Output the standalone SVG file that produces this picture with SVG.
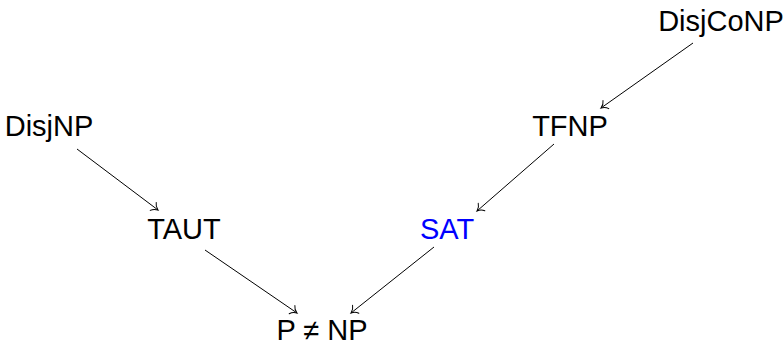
<svg xmlns="http://www.w3.org/2000/svg" width="784" height="347" viewBox="0 0 784 347">
<style>
text{font-family:"Liberation Sans",Arial,sans-serif;font-size:29px;fill:#000;text-anchor:middle}
.blue{fill:#0000ff}
.e{stroke:#000;stroke-width:1;fill:none;marker-end:url(#to)}
</style>
<defs>
<marker id="to" markerUnits="userSpaceOnUse" markerWidth="14" markerHeight="14" viewBox="-8 -7 10 14" refX="0" refY="0" orient="auto">
<path d="M-6,-5 C-4.5,-2 -1.5,-0.5 0,0 C-1.5,0.5 -4.5,2 -6,5" fill="none" stroke="#000" stroke-width="1" stroke-linecap="round"/>
</marker>
</defs>
<g id="edges">
<line class="e" x1="77" y1="149" x2="158" y2="210"/>
<line class="e" x1="205" y1="250" x2="297" y2="313"/>
<line class="e" x1="434" y1="247" x2="351" y2="313"/>
<line class="e" x1="554" y1="144" x2="477" y2="211"/>
<line class="e" x1="693" y1="43" x2="601" y2="108"/>
</g>
<g id="DisjNP"><text x="49" y="136">DisjNP</text></g>
<g id="TAUT"><text x="184" y="239">TAUT</text></g>
<g id="SAT"><text class="blue" x="447" y="239">SAT</text></g>
<g id="TFNP"><text x="570" y="136">TFNP</text></g>
<g id="DisjCoNP"><text x="721" y="31">DisjCoNP</text></g>
<g id="PneqNP"><text x="322" y="340">P ≠ NP</text></g>
</svg>
